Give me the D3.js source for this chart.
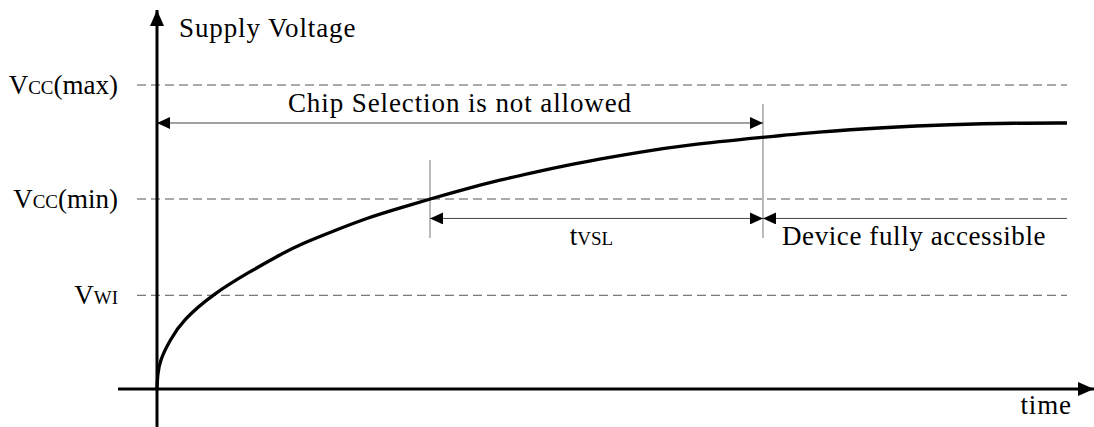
<!DOCTYPE html>
<html>
<head>
<meta charset="utf-8">
<script src="https://cdn.jsdelivr.net/npm/d3@7"></script>
<style>
	body { margin: 0; background: #fff; }
	svg text { font-family: "Liberation Serif", serif; fill: #000; }
</style>
</head>
<body>
<div id="chart"></div>
<script>
// supply voltage ramp (time in arbitrary units, voltage in arbitrary units)
let timeValues = [0, 0.055, 0.33, 1.43, 2.86, 6.15, 10.22, 13.85, 15.71, 19.34, 23.08, 26.70, 30.0, 34.07, 37.69, 41.32, 44.29, 48.68, 52.75, 58.24, 66.59, 72.53, 79.78, 87.14, 94.51, 100];
let voltageValues = [0, 0.166, 0.343, 0.581, 0.817, 1.125, 1.391, 1.610, 1.711, 1.868, 2.025, 2.143, 2.250, 2.374, 2.475, 2.562, 2.633, 2.724, 2.801, 2.890, 2.981, 3.044, 3.097, 3.132, 3.150, 3.150];

// threshold levels
let levelNames = ["V", "V", "V"];
let levelSubs = ["CC", "CC", "WI"];
let levelSuffix = ["(max)", "(min)", ""];
let levelValues = [3.6, 2.25, 1.11];

// timing marks
let tVslStart = 30.0,
	tVslEnd = 66.59,
	tEnd = 100,
	chipSelLevel = 3.15,
	timingLevel = 2.02;

let width = 1094,
	height = 427;

let xScale = d3.scaleLinear()
	.domain([0, 100])
	.range([157, 1067]);

let yScale = d3.scaleLinear()
	.domain([0, 3.6])
	.range([389, 85]);

let svg = d3.select("#chart")
	.append("svg")
	.attr("width", width)
	.attr("height", height);

let defs = svg.append("defs");

function addMarker(id, len, half, orient) {
	defs.append("marker")
		.attr("id", id)
		.attr("viewBox", "0 0 " + len + " " + (half * 2))
		.attr("refX", len)
		.attr("refY", half)
		.attr("markerWidth", len)
		.attr("markerHeight", half * 2)
		.attr("markerUnits", "userSpaceOnUse")
		.attr("orient", orient)
		.append("path")
		.attr("d", "M0,0L" + len + "," + half + "L0," + (half * 2) + "Z")
		.attr("fill", "#000");
}
addMarker("bigArrow", 16, 7, "auto");
addMarker("thinEnd", 13, 6, "auto");
addMarker("thinStart", 13, 6, "auto-start-reverse");

// dashed threshold lines
svg.selectAll(".level")
	.data(levelValues)
	.enter()
	.append("line")
	.attr("class", "level")
	.attr("x1", 137)
	.attr("x2", xScale(tEnd))
	.attr("y1", d => yScale(d))
	.attr("y2", d => yScale(d))
	.attr("stroke", "#555")
	.attr("stroke-width", 1)
	.attr("stroke-dasharray", "9,5");

// level labels, right aligned left of the axis
let labels = svg.selectAll(".levelLabel")
	.data(levelValues)
	.enter()
	.append("text")
	.attr("class", "levelLabel")
	.attr("x", 118)
	.attr("y", d => yScale(d) + 9)
	.attr("text-anchor", "end")
	.style("font-size", "27px");
labels.append("tspan").text((d, i) => levelNames[i]);
labels.append("tspan").style("font-size", "19px").text((d, i) => levelSubs[i]);
labels.append("tspan").text((d, i) => levelSuffix[i]);

// vertical timing lines
svg.append("line")
	.attr("x1", xScale(tVslStart)).attr("x2", xScale(tVslStart))
	.attr("y1", 160).attr("y2", 238)
	.attr("stroke", "#777").attr("stroke-width", 1);
svg.append("line")
	.attr("x1", xScale(tVslEnd)).attr("x2", xScale(tVslEnd))
	.attr("y1", 104).attr("y2", 238)
	.attr("stroke", "#777").attr("stroke-width", 1);

// the ramp, smoothed
let line = d3.line()
	.x((d, i) => xScale(timeValues[i]))
	.y(d => yScale(d))
	.curve(d3.curveBasis);

svg.append("path")
	.datum(voltageValues)
	.attr("d", line)
	.attr("fill", "none")
	.attr("stroke", "#000")
	.attr("stroke-width", 3.3);

// dimension arrows
function dimArrow(t1, t2, v, startHead, endHead) {
	svg.append("line")
		.attr("x1", xScale(t1)).attr("x2", xScale(t2))
		.attr("y1", yScale(v)).attr("y2", yScale(v))
		.attr("stroke", "#444")
		.attr("stroke-width", 1)
		.attr("marker-start", startHead ? "url(#thinStart)" : null)
		.attr("marker-end", endHead ? "url(#thinEnd)" : null);
}
dimArrow(0, tVslEnd, chipSelLevel, true, true);
dimArrow(tVslStart, tVslEnd, timingLevel, true, true);
dimArrow(tVslEnd, tEnd, timingLevel, true, false);

// axes
svg.append("line")
	.attr("x1", xScale(0)).attr("x2", xScale(0))
	.attr("y1", height).attr("y2", 10)
	.attr("stroke", "#000").attr("stroke-width", 3)
	.attr("marker-end", "url(#bigArrow)");
svg.append("line")
	.attr("x1", 118).attr("x2", width)
	.attr("y1", yScale(0)).attr("y2", yScale(0))
	.attr("stroke", "#000").attr("stroke-width", 3)
	.attr("marker-end", "url(#bigArrow)");

// texts
function label(x, y, anchor, txt, spacing) {
	return svg.append("text")
		.attr("x", x).attr("y", y)
		.attr("text-anchor", anchor)
		.style("font-size", "27px")
		.style("letter-spacing", spacing + "px")
		.text(txt);
}
label(179, 37, "start", "Supply Voltage", 0.9);
label((xScale(0) + xScale(tVslEnd)) / 2, 112, "middle", "Chip Selection is not allowed", 0.9);
label(xScale(tVslEnd) + 19, 245, "start", "Device fully accessible", 0.6);
label(1072, 414, "end", "time", 0.9);

let tv = svg.append("text")
	.attr("x", (xScale(tVslStart) + xScale(tVslEnd)) / 2 - 5).attr("y", 245)
	.attr("text-anchor", "middle")
	.style("font-size", "27px");
tv.append("tspan").text("t");
tv.append("tspan").style("font-size", "19px").text("VSL");
</script>
</body>
</html>
